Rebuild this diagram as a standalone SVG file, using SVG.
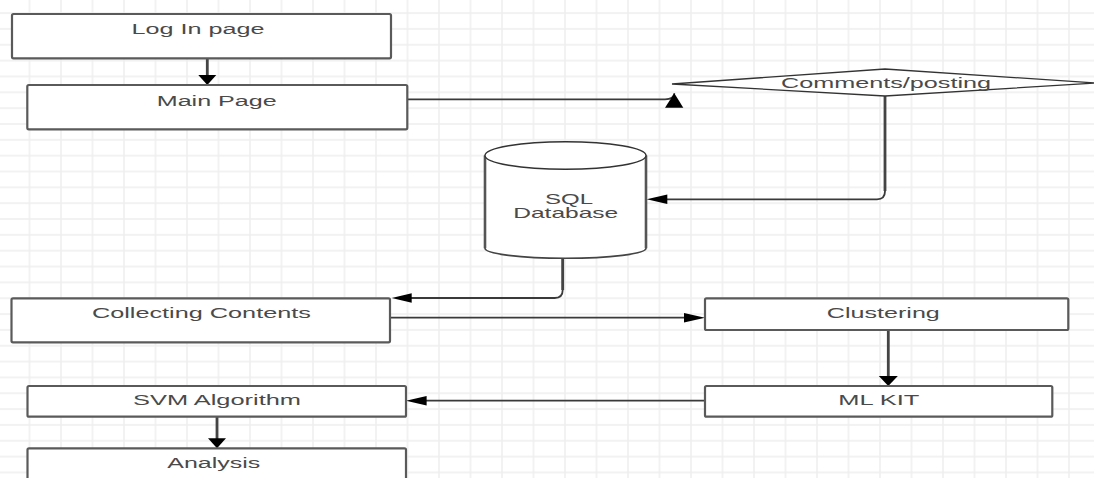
<svg xmlns="http://www.w3.org/2000/svg" width="1094" height="478" viewBox="0 0 1094 478">
<defs>
<pattern id="grid" patternUnits="userSpaceOnUse" x="13.75" y="5.18" width="31.5" height="15.84">
<path d="M15.75 0 V15.84 M0 7.92 H31.5" stroke="#eeeeee" stroke-width="1.5" fill="none"/>
</pattern>
<style>
.box{fill:#fff;stroke:#5a5a5a;stroke-width:2.2}
.lbl{font-family:"Liberation Sans",Arial,sans-serif;fill:#4a4a4a;text-anchor:middle}
.con{fill:none;stroke:#3a3a3a;stroke-width:1.8}
.convert{fill:none;stroke:#444;stroke-width:2.8}
.head{fill:#000}
</style>
</defs>
<rect width="1094" height="478" fill="#fff"/>
<rect width="1094" height="478" fill="url(#grid)"/>

<g id="connectors">
<path class="convert" d="M207.3 58.3 V76"/>
<polygon class="head" points="198.3,75 216.3,75 207.3,85"/>
<path class="con" d="M407.3 99.3 H665 Q674.3 99.3 674.3 93.3"/>
<polygon class="head" points="665,107.7 683.3,107.7 674.3,93.3"/>
<path class="con" d="M885 96 V191.3 Q885 199.3 877 199.3 H667"/>
<path class="convert" d="M885 96 V191"/>
<polygon class="head" points="646.7,199.3 667.3,194.6 667.3,204"/>
<path class="con" d="M562.7 258.3 V290 Q562.7 298 554.7 298 H411"/>
<path class="convert" d="M562.7 258.3 V290"/>
<polygon class="head" points="391.7,298 411.7,293.3 411.7,302.7"/>
<path class="con" d="M391 317.7 H685"/>
<polygon class="head" points="705,317.7 684,313 684,322.4"/>
<path class="convert" d="M888.3 330 V377"/>
<polygon class="head" points="878.8,376 897.8,376 888.3,386"/>
<path class="con" d="M705 400.7 H426"/>
<polygon class="head" points="406,400.7 426.6,396 426.6,405.4"/>
<path class="convert" d="M217 416.7 V439"/>
<polygon class="head" points="208,438.3 226,438.3 217,448.3"/>
</g>

<g id="login">
<rect class="box" x="12" y="14" width="379" height="44.3" rx="1.5"/>
<text class="lbl" transform="translate(198 34.3) scale(1.62 1)" font-size="15.4" textLength="82.1" lengthAdjust="spacingAndGlyphs">Log In page</text>
</g>
<g id="mainpage">
<rect class="box" x="27.3" y="85" width="380" height="44.3" rx="1.5"/>
<text class="lbl" transform="translate(216.7 106) scale(1.63 1)" font-size="15.4" textLength="73.6" lengthAdjust="spacingAndGlyphs">Main Page</text>
</g>
<g id="comments">
<polygon points="672,84 885,69 1096,83 885,96" fill="#fff" stroke="#333" stroke-width="1.3"/>
<text class="lbl" transform="translate(886 88.3) scale(1.8 1)" font-size="14" textLength="116.7" lengthAdjust="spacingAndGlyphs">Comments/posting</text>
</g>
<g id="sqldb">
<path d="M485 155.5 V248.3 A80.5 10 0 0 0 646 248.3 V155.5" fill="#fff" stroke="#444" stroke-width="1.6"/>
<path d="M485 155.5 V248.3 M646 155.5 V248.3" fill="none" stroke="#555" stroke-width="2.6"/>
<ellipse cx="565.5" cy="155.5" rx="80.5" ry="13.8" fill="#fff" stroke="#333" stroke-width="1.4"/>
<text class="lbl" transform="translate(569 204) scale(1.74 1)" font-size="13.8" textLength="27.6" lengthAdjust="spacingAndGlyphs">SQL</text>
<text class="lbl" transform="translate(565.7 218) scale(1.78 1)" font-size="13.8" textLength="59" lengthAdjust="spacingAndGlyphs">Database</text>
</g>
<g id="collecting">
<rect class="box" x="11.5" y="298.3" width="378.5" height="44" rx="1.5"/>
<text class="lbl" transform="translate(201.4 318.3) scale(1.61 1)" font-size="15.4" textLength="136" lengthAdjust="spacingAndGlyphs">Collecting Contents</text>
</g>
<g id="clustering">
<rect class="box" x="705" y="298.3" width="363.3" height="31.7" rx="1.5"/>
<text class="lbl" transform="translate(883.3 318.3) scale(1.63 1)" font-size="15.4" textLength="69.3" lengthAdjust="spacingAndGlyphs">Clustering</text>
</g>
<g id="mlkit">
<rect class="box" x="705" y="386" width="347.3" height="30.7" rx="1.5"/>
<text class="lbl" transform="translate(878.8 405) scale(1.63 1)" font-size="15.4" textLength="49.7" lengthAdjust="spacingAndGlyphs">ML KIT</text>
</g>
<g id="svm">
<rect class="box" x="27.5" y="386" width="378.5" height="30.7" rx="1.5"/>
<text class="lbl" transform="translate(217 405) scale(1.64 1)" font-size="15.4" textLength="102.4" lengthAdjust="spacingAndGlyphs">SVM Algorithm</text>
</g>
<g id="analysis">
<rect class="box" x="27.5" y="448.3" width="378.5" height="40" rx="1.5"/>
<text class="lbl" transform="translate(213.8 468.3) scale(1.62 1)" font-size="15.4" textLength="57.4" lengthAdjust="spacingAndGlyphs">Analysis</text>
</g>
</svg>
